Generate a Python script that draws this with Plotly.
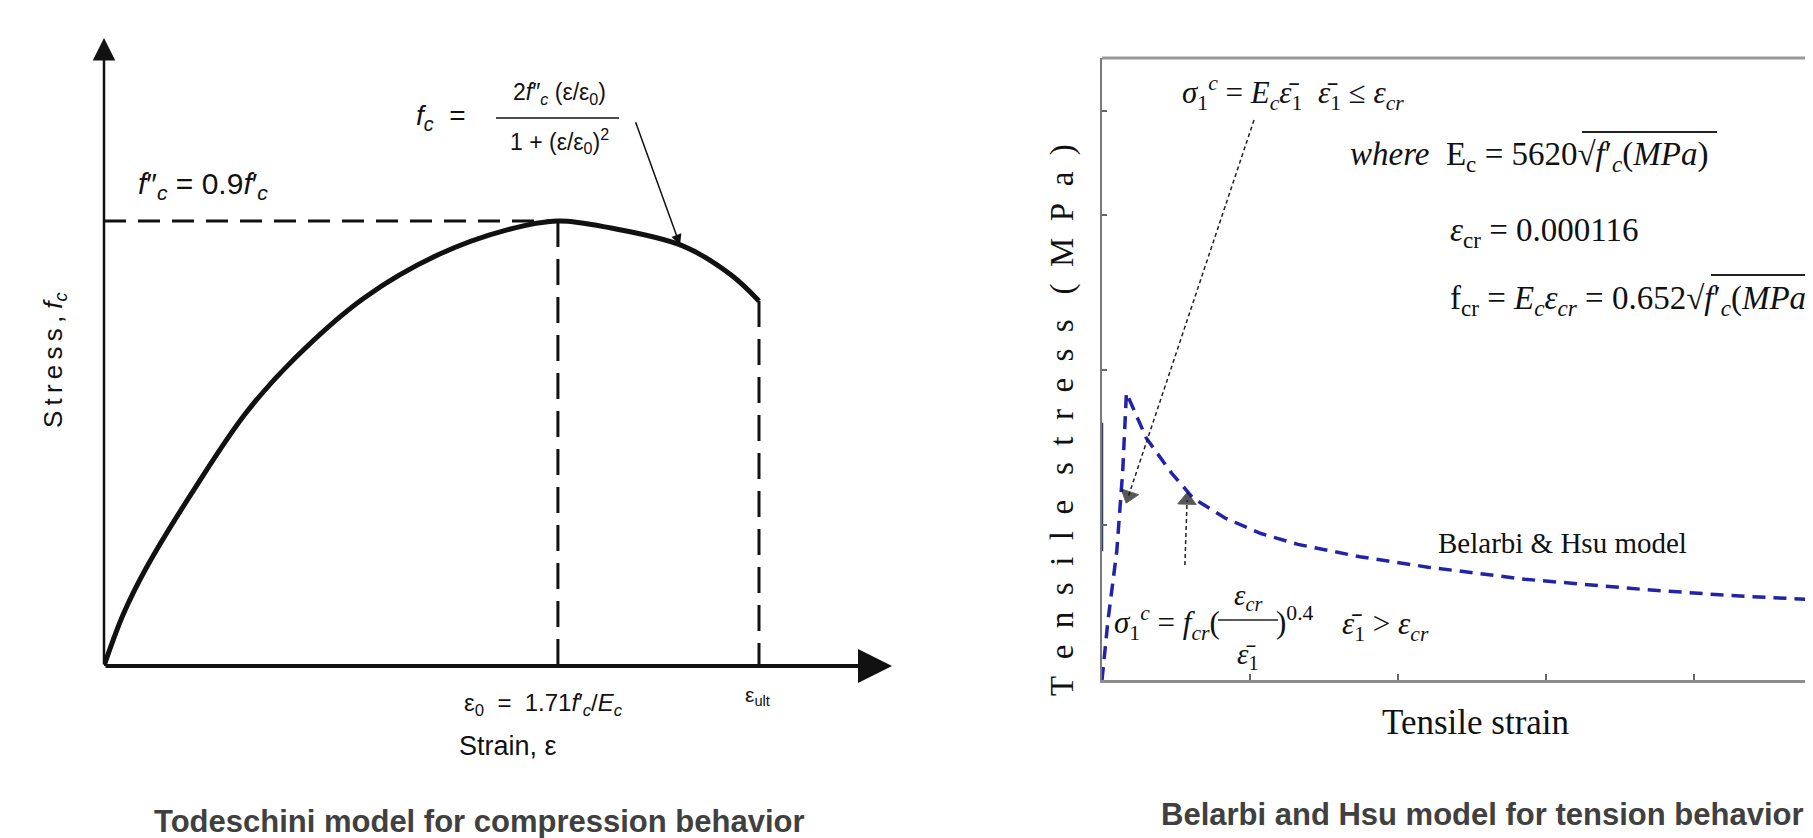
import plotly.graph_objects as go

W, H = 1813, 838

# ---------------- Left panel: Todeschini compression model (normalised) ----------------
comp_strain = [0, 0.042, 0.093, 0.205, 0.313, 0.421, 0.573, 0.736, 0.888, 1.0, 1.117, 1.275, 1.381, 1.443]
comp_stress = [0, 0.115, 0.220, 0.407, 0.569, 0.692, 0.827, 0.924, 0.980, 1.0, 0.984, 0.944, 0.879, 0.820]
eps0 = 1.0          # strain at peak
eps_ult = 1.443     # ultimate strain
fc_peak = 1.0       # f''c
fc_ult = 0.820      # stress at ultimate strain
comp_x_max = 1.736  # x-axis arrow tip
comp_y_max = 1.411  # y-axis arrow tip
fc_arrow_from = [1.170, 1.225]
fc_arrow_to = [1.269, 0.946]

# ---------------- Right panel: Belarbi & Hsu tension model ----------------
tens_strain = [0, 0.040, 0.100, 0.140, 0.165, 0.300, 0.470, 0.615, 0.831, 1.074, 1.324,
               1.743, 2.203, 2.858, 3.649, 4.243, 4.858]
tens_stress = [0, 0.381, 0.832, 1.348, 1.852, 1.560, 1.335, 1.174, 1.045, 0.945, 0.875,
               0.795, 0.728, 0.650, 0.585, 0.545, 0.516]
left_edge_y = [0.83, 1.66]
strain_ticks = [1, 2, 3, 4]
stress_ticks = [1, 2, 3, 3.67]
tens_x_max = 4.858
tens_y_max = 4.013
arrow1_x = [1.027, 0.180]
arrow1_y = [3.613, 1.190]
arrow2_x = [0.560, 0.575]
arrow2_y = [0.742, 1.160]

SANS = "Liberation Sans, Arial, sans-serif"
SERIF = "Liberation Serif, Times New Roman, serif"


def px(x):
    return x / W


def py(y):
    return 1 - y / H


fig = go.Figure()

# Left curve and dashed guides
fig.add_trace(go.Scatter(x=comp_strain, y=comp_stress, mode="lines",
                         line=dict(color="#111111", width=5, shape="spline", smoothing=1.0),
                         xaxis="x", yaxis="y", hoverinfo="skip"))
fig.add_trace(go.Scatter(x=[0, eps0], y=[fc_peak, fc_peak], mode="lines",
                         line=dict(color="#111111", width=3, dash="22px,12px"),
                         xaxis="x", yaxis="y", hoverinfo="skip"))
fig.add_trace(go.Scatter(x=[eps0, eps0], y=[fc_peak, 0], mode="lines",
                         line=dict(color="#111111", width=3, dash="26px,12px"),
                         xaxis="x", yaxis="y", hoverinfo="skip"))
fig.add_trace(go.Scatter(x=[eps_ult, eps_ult], y=[fc_ult, 0], mode="lines",
                         line=dict(color="#111111", width=3, dash="26px,12px"),
                         xaxis="x", yaxis="y", hoverinfo="skip"))

# Right curve
fig.add_trace(go.Scatter(x=tens_strain, y=tens_stress, mode="lines",
                         line=dict(color="#2323a8", width=3.5, dash="13px,8px"),
                         xaxis="x2", yaxis="y2", hoverinfo="skip"))
fig.add_trace(go.Scatter(x=[0, 0], y=left_edge_y, mode="lines",
                         line=dict(color="#3a3a5a", width=2.5),
                         xaxis="x2", yaxis="y2", hoverinfo="skip"))
for ax_, ay_ in [(arrow1_x, arrow1_y), (arrow2_x, arrow2_y)]:
    fig.add_trace(go.Scatter(x=ax_, y=ay_, mode="lines+markers",
                             line=dict(color="#222222", width=1.5, dash="4px,3px"),
                             marker=dict(size=[0, 16], symbol="triangle-up", angleref="previous",
                                         color="#111111"),
                             xaxis="x2", yaxis="y2", hoverinfo="skip"))

ann = []


def txt(x, y, s, size, font, color="#111111", xanchor="center", textangle=0):
    ann.append(dict(x=px(x), y=py(y), xref="paper", yref="paper", text=s, showarrow=False,
                    font=dict(family=font, size=size, color=color), xanchor=xanchor,
                    yanchor="middle", textangle=textangle))


# Left axes arrows
ann.append(dict(x=comp_x_max, y=0, ax=0, ay=0, xref="x", yref="y", axref="x", ayref="y",
                showarrow=True, arrowhead=2, arrowsize=1.7, arrowwidth=4, arrowcolor="#111111", text=""))
ann.append(dict(x=0, y=comp_y_max, ax=0, ay=0, xref="x", yref="y", axref="x", ayref="y",
                showarrow=True, arrowhead=2, arrowsize=1.8, arrowwidth=2.5, arrowcolor="#111111", text=""))
ann.append(dict(x=fc_arrow_to[0], y=fc_arrow_to[1], ax=fc_arrow_from[0], ay=fc_arrow_from[1],
                xref="x", yref="y", axref="x", ayref="y",
                showarrow=True, arrowhead=2, arrowsize=1.4, arrowwidth=1.5, arrowcolor="#111111", text=""))

# Left texts
sp = "\u2009"
txt(46, 352, sp.join("Stress,") + " <i>f</i><sub><i>c</i></sub>", 26, SANS, textangle=-90)
txt(128, 178, "<i>f</i>″<sub><i>c</i></sub> = 0.9<i>f</i>′<sub><i>c</i></sub>", 30, SANS, xanchor="left")
txt(406, 110, "<i>f</i><sub><i>c</i></sub>  =", 28, SANS, xanchor="left")
txt(551, 85, "2<i>f</i>″<sub><i>c</i></sub> (ε/ε<sub>0</sub>)", 23, SANS)
txt(551, 133, "1 + (ε/ε<sub>0</sub>)<sup>2</sup>", 23, SANS)
txt(535, 696, "ε<sub>0</sub>  =  1.71<i>f</i>′<sub><i>c</i></sub>/<i>E</i><sub><i>c</i></sub>", 24, SANS)
txt(749, 688, "ε<sub>ult</sub>", 21, SANS)
txt(500, 738, "Strain, ε", 27, SANS)
txt(471, 813, "<b>Todeschini model for compression behavior</b>", 31, SANS, color="#404040")

# Right texts
txt(1172, 85, "<i>σ</i><sub>1</sub><sup><i>c</i></sup> = <i>E</i><sub><i>c</i></sub><i>ε̄</i><sub>1</sub>  "
              "<i>ε̄</i><sub>1</sub> ≤ <i>ε</i><sub><i>cr</i></sub>", 31, SERIF, xanchor="left")
txt(1340, 149, "<i>where</i>  E<sub>c</sub> = 5620√<i>f</i>′<sub><i>c</i></sub>(<i>MPa</i>)",
    33, SERIF, xanchor="left")
txt(1440, 224, "<i>ε</i><sub>cr</sub> = 0.000116", 33, SERIF, xanchor="left")
txt(1440, 292, "f<sub>cr</sub> = <i>E</i><sub><i>c</i></sub><i>ε</i><sub><i>cr</i></sub> = 0.652√"
               "<i>f</i>′<sub><i>c</i></sub>(<i>MPa</i>)", 33, SERIF, xanchor="left")
txt(1428, 535, "Belarbi &amp; Hsu model", 29, SERIF, xanchor="left")
txt(1104, 615, "<i>σ</i><sub>1</sub><sup><i>c</i></sup> = <i>f</i><sub><i>cr</i></sub>(", 31, SERIF,
    xanchor="left")
txt(1240, 589, "<i>ε</i><sub><i>cr</i></sub>", 29, SERIF)
txt(1240, 648, "<i>ε̄</i><sub>1</sub>", 29, SERIF)
txt(1266, 612, ")<sup>0.4</sup>", 31, SERIF, xanchor="left")
txt(1332, 618, "<i>ε̄</i><sub>1</sub> > <i>ε</i><sub><i>cr</i></sub>", 31, SERIF, xanchor="left")
txt(1467, 714, "Tensile strain", 35, SERIF)
gap = "\u2002"
txt(1054, 412, gap.join("Tensile") + gap + " " + gap.join("stress") + gap + " " + gap.join("(MPa)"),
    33, SERIF, textangle=-90)
txt(1474, 806, "<b>Belarbi and Hsu model for tension behavior</b>", 31, SANS, color="#404040")

shapes = [
    # fraction bars
    dict(type="line", xref="paper", yref="paper", x0=px(488), x1=px(611), y0=py(110), y1=py(110),
         line=dict(color="#111111", width=1.5)),
    dict(type="line", xref="paper", yref="paper", x0=px(1210), x1=px(1270), y0=py(612), y1=py(612),
         line=dict(color="#222222", width=1.5)),
    # radical overlines
    dict(type="line", xref="paper", yref="paper", x0=px(1574), x1=px(1709), y0=py(124), y1=py(124),
         line=dict(color="#222222", width=2)),
    dict(type="line", xref="paper", yref="paper", x0=px(1703), x1=px(1813), y0=py(267), y1=py(267),
         line=dict(color="#222222", width=2)),
    # top border of right frame
    dict(type="line", xref="x2 domain", yref="y2 domain", x0=0, x1=1, y0=1, y1=1,
         line=dict(color="#9a9a9a", width=3)),
]

hidden = dict(visible=False, showgrid=False, zeroline=False)
fig.update_layout(
    width=W, height=H, margin=dict(l=0, r=0, t=0, b=0),
    paper_bgcolor="white", plot_bgcolor="white", showlegend=False,
    xaxis=dict(domain=[96 / W, 884 / W], range=[0, comp_x_max], anchor="y", **hidden),
    yaxis=dict(domain=[1 - 658 / H, 1 - 30 / H], range=[0, comp_y_max], anchor="x", **hidden),
    xaxis2=dict(domain=[1094 / W, 1.0], range=[0, tens_x_max], anchor="y2", showline=True,
                linecolor="#8c8c8c", linewidth=3, ticks="inside", tickvals=strain_ticks, ticklen=6,
                tickwidth=1.5, tickcolor="#666666", showticklabels=False, showgrid=False, zeroline=False),
    yaxis2=dict(domain=[1 - 672 / H, 1 - 50 / H], range=[0, tens_y_max], anchor="x2", showline=True,
                linecolor="#7a7a7a", linewidth=2, ticks="inside", tickvals=stress_ticks, ticklen=5,
                tickwidth=1.5, tickcolor="#666666", showticklabels=False, showgrid=False, zeroline=False),
    annotations=ann, shapes=shapes,
)

fig.write_html("out.html")
